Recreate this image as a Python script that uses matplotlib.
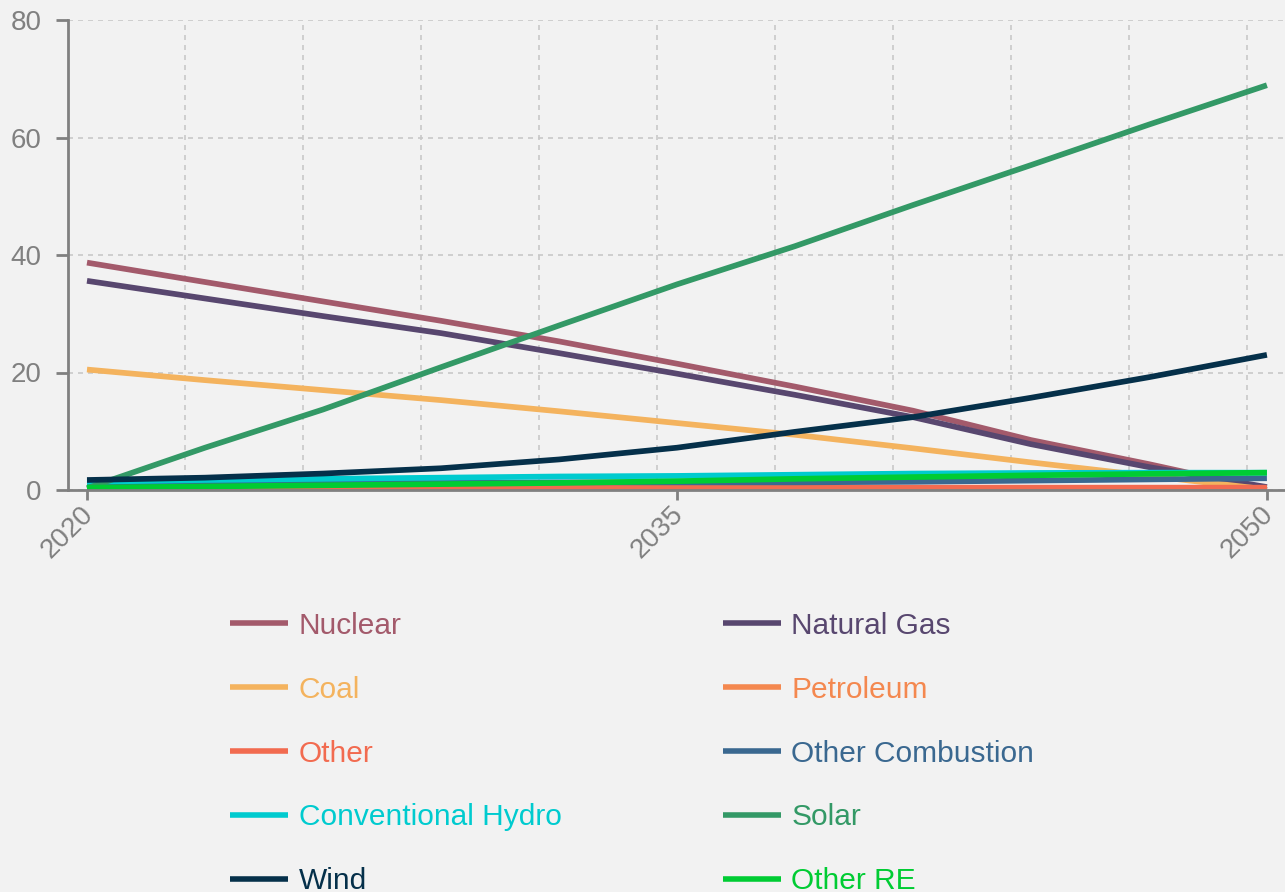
import matplotlib
matplotlib.use("Agg")
import matplotlib.pyplot as plt
import matplotlib.transforms as mtransforms

years = [2020, 2023, 2026, 2029, 2032, 2035, 2038, 2041, 2044, 2047, 2050]

nuclear = [38.7, 35.4, 32.1, 28.8, 25.3, 21.5, 17.6, 13.5, 8.5, 4.4, 0.0]
natural_gas = [35.6, 32.6, 29.6, 26.7, 23.3, 19.8, 16.2, 12.4, 7.8, 3.9, 0.5]
coal = [20.5, 18.7, 17.0, 15.3, 13.4, 11.4, 9.4, 7.1, 4.7, 2.4, 0.1]
petroleum = [0.3, 0.25, 0.2, 0.2, 0.15, 0.1, 0.1, 0.1, 0.1, 0.1, 0.1]
other = [0.2, 0.25, 0.3, 0.35, 0.4, 0.4, 0.4, 0.4, 0.4, 0.4, 0.4]
other_combustion = [1.0, 1.1, 1.2, 1.2, 1.3, 1.3, 1.3, 1.4, 1.6, 1.8, 2.0]
conventional_hydro = [1.4, 1.7, 1.9, 2.1, 2.3, 2.4, 2.6, 2.8, 2.9, 2.95, 2.95]
solar = [0.3, 7.2, 13.7, 20.9, 28.0, 35.0, 41.5, 48.5, 55.3, 62.2, 68.9]
wind = [1.7, 2.1, 2.8, 3.7, 5.2, 7.2, 9.9, 12.4, 15.7, 19.2, 23.0]
other_re = [0.4, 0.6, 0.8, 1.0, 1.2, 1.5, 1.9, 2.2, 2.5, 2.75, 2.95]

series_names = ["Nuclear", "Natural Gas", "Coal", "Petroleum", "Other",
                "Other Combustion", "Conventional Hydro", "Solar", "Wind", "Other RE"]
series_values = [nuclear, natural_gas, coal, petroleum, other,
                 other_combustion, conventional_hydro, solar, wind, other_re]
series_colors = ["#A35A6B", "#58476F", "#F4B35E", "#F4884F", "#F26B50",
                 "#3A6890", "#00CBCF", "#339966", "#05304A", "#00CC33"]

x_tick_labels = ["2020", "2035", "2050"]
y_ticks = [0, 20, 40, 60, 80]

bg = "#F2F2F2"
gray = "#808080"

plt.rcParams['font.family'] = ['Liberation Sans', 'DejaVu Sans']

fig = plt.figure(figsize=(12.85, 8.92), dpi=100, facecolor=bg)
ax = fig.add_axes([68/1285, 402/892, 1 - 68/1285, 470/892], facecolor=bg)

handles = []
for name, vals, col in zip(series_names, series_values, series_colors):
    h, = ax.plot(years, vals, color=col, lw=4.1, label=name,
                 solid_capstyle='butt', solid_joinstyle='round')
    handles.append(h)

ax.set_xlim(2019.517, 2050.46)
ax.set_ylim(0, 80)

ax.set_xticks([int(t) for t in x_tick_labels])
ax.set_xticks([2022.5 + 3 * k for k in range(10)], minor=True)
ax.set_yticks(y_ticks)
ax.set_yticklabels([str(t) for t in y_ticks], color=gray, fontsize=20)

ax.tick_params(axis='y', which='major', length=9, width=2, color=gray, pad=10)
ax.tick_params(axis='x', which='major', length=7, width=2, color=gray, pad=3)
ax.tick_params(axis='x', which='minor', length=0)

ax.set_xticklabels(x_tick_labels, rotation=45, ha='right', va='top',
                   rotation_mode='anchor', color=gray, fontsize=20)
shift = mtransforms.ScaledTranslation(-7/100, 3/100, fig.dpi_scale_trans)
for lbl in ax.get_xticklabels():
    lbl.set_transform(lbl.get_transform() + shift)

ax.grid(True, axis='y', which='major', color='#C8C8C8', linestyle=(0, (3, 3)), lw=1.2)
ax.grid(True, axis='x', which='minor', color='#C8C8C8', linestyle=(0, (3, 3)), lw=1.2)
ax.set_axisbelow(True)

for s in ['top', 'right']:
    ax.spines[s].set_visible(False)
for s in ['left', 'bottom']:
    ax.spines[s].set_color(gray)
    ax.spines[s].set_linewidth(2)

# legend laid out row by row (two columns)
order = [0, 2, 4, 6, 8, 1, 3, 5, 7, 9]
leg = fig.legend(handles=[handles[i] for i in order],
                 labels=[series_names[i] for i in order], ncol=2,
                 loc='upper left', bbox_to_anchor=(203/1285, 1 - 585/892),
                 frameon=False, fontsize=21.5, handlelength=1.96,
                 handletextpad=0.34, columnspacing=5.4, labelspacing=1.2)
for txt, i in zip(leg.get_texts(), order):
    txt.set_color(series_colors[i])
for lh in leg.get_lines():
    lh.set_linewidth(4.0)

fig.savefig("out.png", dpi=100, facecolor=bg)
